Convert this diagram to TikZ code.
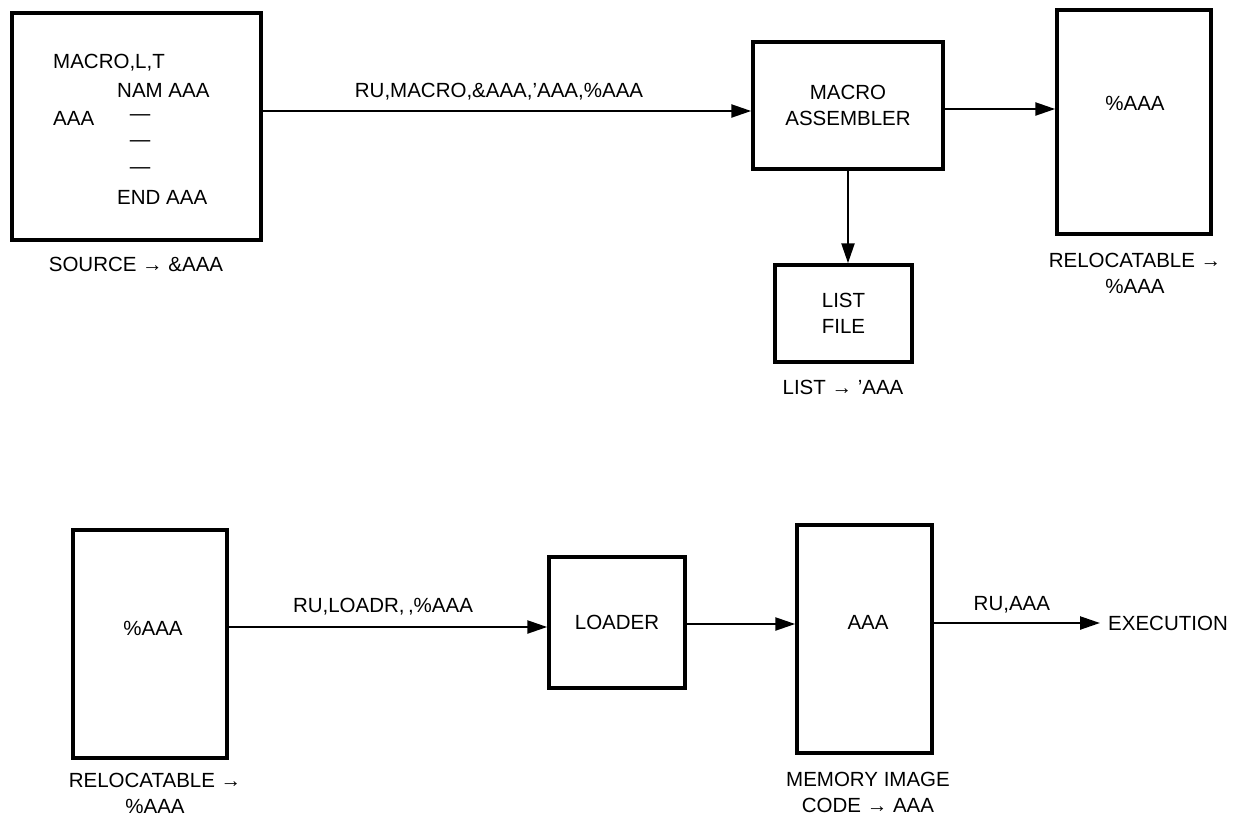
\documentclass[tikz,border=0pt]{standalone}
\usepackage{fontspec}
\setmainfont{Liberation Sans}
\usetikzlibrary{arrows.meta,calc}
\tikzset{
  box/.style={draw=black, line width=3.5pt, minimum width=#1, inner sep=0pt},
  txt/.style={font=\fontsize{20.5}{25.5}\selectfont, inner sep=0pt, align=center},
  ltxt/.style={font=\fontsize{20.5}{25.5}\selectfont, inner sep=0pt, anchor=west},
  arr/.style={line width=2.4pt, -{Triangle[length=20pt,width=13pt]}},
}
\begin{document}
\begin{tikzpicture}[x=1pt,y=-1pt]
\useasboundingbox[fill=white] (0,0) rectangle (1239,817);
% --- top row ---
\node[box=249pt, minimum height=227pt] (source) at (136.5,126.5) {};
\node[ltxt] (s1) at (53,63) {MACRO,L,T};
\node[ltxt] (s2) at (117,90) {NAM AAA};
\node[ltxt] (s3) at (53,118) {AAA};
\node[txt] (d1) at (140,118) {—};
\node[txt] (d2) at (140,144) {—};
\node[txt] (d3) at (140,171) {—};
\node[ltxt] (s4) at (117,197) {END AAA};
\node[txt] (srclab) at (136,264) {SOURCE → \&AAA};

\node[box=190pt, minimum height=127pt, txt] (macro) at (848,105.5) {MACRO\\ASSEMBLER};
\node[box=154pt, minimum height=224pt] (rel) at (1134,122) {};
\node[txt] (reltxt) at (1135,103) {\%AAA};
\node[txt] (rellab) at (1135,273.5) {RELOCATABLE →\\\%AAA};

\node[box=137pt, minimum height=97pt, txt] (list) at (843.5,313.5) {LIST\\FILE};
\node[txt] (listlab) at (843,387) {LIST → 'AAA};

\draw[arr] ($(source.east)+(0,-15.5)$) -- ($(macro.west)+(0,5.5)$)
  node[txt, midway, yshift=19pt, xshift=-8pt] (l1) {RU,MACRO,\&AAA,'AAA,\%AAA};
\draw[arr] ($(macro.east)+(0,3.5)$) -- ($(rel.west)+(0,-13)$);
\draw[arr] (macro.south) -- (macro.south |- list.north);

% --- bottom row ---
\node[box=154pt, minimum height=228pt] (rel2) at (150,644) {};
\node[txt] (rel2txt) at (153,628) {\%AAA};
\node[txt] (rel2lab) at (155,793.5) {RELOCATABLE →\\\%AAA};

\node[box=136pt, minimum height=131pt, txt] (loader) at (617,622.5) {LOADER};
\node[box=135pt, minimum height=228pt] (mem) at (864.5,639) {};
\node[txt] (memtxt) at (868,622) {AAA};
\node[txt] (memlab) at (868,792.5) {MEMORY IMAGE\\CODE → AAA};
\node[ltxt, inner xsep=8pt] (exec) at (1100,623) {EXECUTION};

\draw[arr] ($(rel2.east)+(0,-17)$) -- ($(loader.west)+(0,4.5)$)
  node[txt, midway, yshift=20pt, xshift=-5pt] (l2) {RU,LOADR{,}\,{,}\%AAA};
\draw[arr] ($(loader.east)+(0,1.5)$) -- ($(mem.west)+(0,-15)$);
\draw[arr] ($(mem.east)+(0,-16)$) -- (exec.west)
  node[txt, midway, yshift=18pt, xshift=-5pt] (l3) {RU,AAA};
\end{tikzpicture}
\end{document}
